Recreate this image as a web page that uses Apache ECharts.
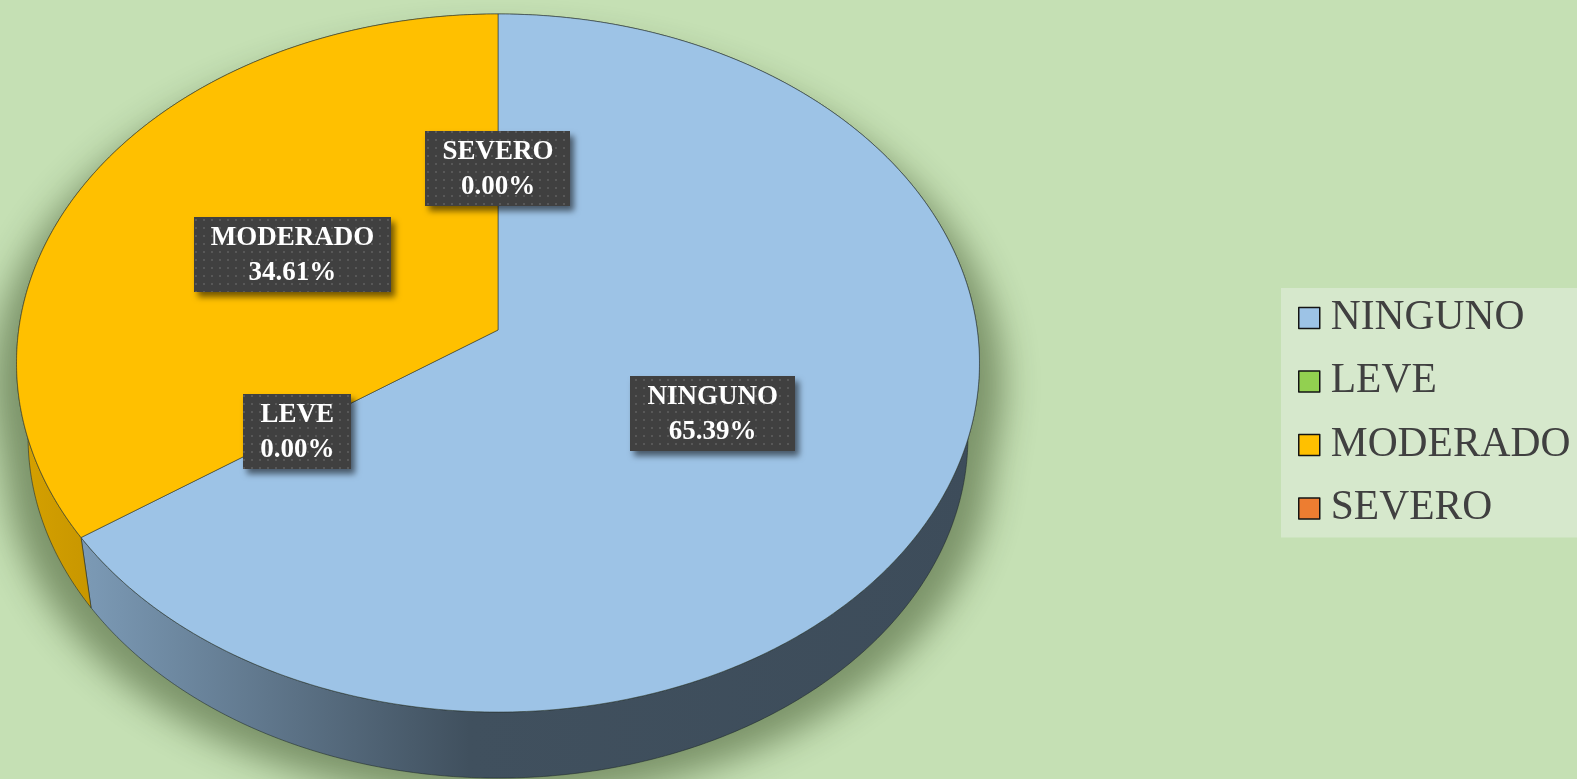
<!DOCTYPE html>
<html>
<head>
<meta charset="utf-8">
<script src="https://cdn.jsdelivr.net/npm/echarts@6/dist/echarts.min.js"></script>
<style>
  html, body { margin: 0; padding: 0; background: #c5e0b4; }
  #chart { width: 1577px; height: 779px; }
</style>
</head>
<body>
<div id="chart"></div>
<script>
// Survey result shares per category (percent)
const categories = ['NINGUNO', 'LEVE', 'MODERADO', 'SEVERO'];
const percentages = [65.39, 0.00, 34.61, 0.00];
const sliceColors = ['#9dc3e6', '#92d050', '#ffc000', '#ed7d31'];

// Geometry of the tilted disc (perspective view)
const CX = 498, CY = 330;          // projected centre of the top face
const RX = 479.3, RY = 345.9;      // radii before perspective scaling
const PERSP = 0.0946;              // near side appears larger
const DEPTH = 75.2;                // drop of the bottom face
const BOTTOM_SCALE = 0.976;        // bottom face is slightly farther away
const LABEL_R = 0.495;             // label distance as a fraction of radius

function project(theta, r, bottom) {
  const u = Math.sin(theta) * r;
  const v = -Math.cos(theta) * r;
  const s = 1 / (1 - PERSP * v);
  const m = bottom ? BOTTOM_SCALE : 1;
  return [CX + RX * u * s * m, CY + (bottom ? DEPTH : 0) + RY * v * s * m];
}

function arc(a, b, bottom) {
  const pts = [];
  const n = Math.max(2, Math.ceil((b - a) / (Math.PI / 360)));
  for (let i = 0; i <= n; i++) pts.push(project(a + (b - a) * i / n, 1, bottom));
  return pts;
}

function shade(hex, f) {
  const n = parseInt(hex.slice(1), 16);
  const r = Math.round(((n >> 16) & 255) * f);
  const g = Math.round(((n >> 8) & 255) * f);
  const b = Math.round((n & 255) * f);
  return 'rgb(' + r + ',' + g + ',' + b + ')';
}

function wallFill(hex) {
  const stops = [[0, 0.84], [0.08, 0.78], [0.29, 0.58], [0.47, 0.41], [1, 0.39]];
  return {
    type: 'linear', global: true, x: 17, y: 0, x2: 980, y2: 0,
    colorStops: stops.map(s => ({ offset: s[0], color: shade(hex, s[1]) }))
  };
}

// dotted fill for the label boxes
const dots = document.createElement('canvas');
dots.width = 8; dots.height = 8;
(function () {
  const c = dots.getContext('2d');
  c.fillStyle = '#404040'; c.fillRect(0, 0, 8, 8);
  c.fillStyle = '#585858'; c.fillRect(3, 3, 2, 2);
})();

const LABEL_FONT = 'bold 27px "Liberation Serif"';
const measureCtx = document.createElement('canvas').getContext('2d');
measureCtx.font = LABEL_FONT;

const total = percentages.reduce((s, v) => s + v, 0);
const startAngles = [];
let acc = 0;
percentages.forEach(v => { startAngles.push(acc / total * Math.PI * 2); acc += v; });

// soft cast shadow: a widened outline of the cake drawn off-canvas,
// with only its shadow shifted back under the cake
const SHADOW_SHIFT = 3000;
function shadowOutline() {
  const d = Math.PI / 180;
  const pts = arc(-100 * d, 100 * d, false).concat(arc(100 * d, 260 * d, true));
  return pts.map(p => [CX + (p[0] - CX) * 1.05 - SHADOW_SHIFT, p[1] + 22]);
}

function renderSlice(params) {
  const i = params.dataIndex;
  const a = startAngles[i];
  const b = a + percentages[i] / total * Math.PI * 2;
  const color = sliceColors[i];
  const children = [];

  if (i === 0) {
    children.push({
      type: 'polygon', z2: 0,
      shape: { points: shadowOutline() },
      style: {
        fill: '#000', shadowBlur: 34, shadowColor: 'rgba(35,55,15,0.45)',
        shadowOffsetX: SHADOW_SHIFT, shadowOffsetY: 0
      }
    });
  }

  if (b > a) {
    const top = arc(a, b, false);
    const bot = arc(a, b, true).reverse();
    children.push({
      type: 'polygon', z2: 5,
      shape: { points: top.concat(bot) },
      style: { fill: wallFill(color), stroke: 'rgba(30,40,40,0.55)', lineWidth: 1 }
    });
    children.push({
      type: 'polygon', z2: 10,
      shape: { points: [[CX, CY]].concat(top) },
      style: { fill: color, stroke: 'rgba(50,60,55,0.6)', lineWidth: 1 }
    });
  }

  // data label
  const mid = (a + b) / 2;
  const p = project(mid, LABEL_R, false);
  p[1] += 2;
  const line1 = categories[i];
  const line2 = percentages[i].toFixed(2) + '%';
  const tw = Math.max(measureCtx.measureText(line1).width, measureCtx.measureText(line2).width);
  const w = Math.round(tw + 34), h = 75;
  children.push({
    type: 'rect', z2: 30,
    shape: { x: Math.round(p[0] - w / 2), y: Math.round(p[1] - h / 2), width: w, height: h },
    style: {
      fill: { image: dots, repeat: 'repeat' },
      shadowBlur: 6, shadowOffsetX: 4, shadowOffsetY: 5, shadowColor: 'rgba(0,0,0,0.55)'
    }
  });
  children.push({
    type: 'text', z2: 31,
    style: {
      text: line1 + '\n' + line2, x: p[0], y: p[1] + 1,
      align: 'center', verticalAlign: 'middle',
      fill: '#ffffff', font: LABEL_FONT, lineHeight: 35
    }
  });

  return { type: 'group', children: children };
}

const chart = echarts.init(document.getElementById('chart'), null, { renderer: 'canvas' });
chart.setOption({
  backgroundColor: '#c5e0b4',
  animation: false,
  legend: {
    orient: 'vertical', left: 1281, top: 288,
    padding: [9, 22, 8, 17], itemGap: 21.5, itemWidth: 21, itemHeight: 21,
    backgroundColor: '#d6e8cc',
    icon: 'rect',
    itemStyle: { borderColor: '#141414', borderWidth: 1.5 },
    textStyle: {
      fontFamily: 'Liberation Serif', fontSize: 41.5, lineHeight: 40,
      color: '#404040', padding: [0, 0, 0, 6]
    },
    selectedMode: false,
    data: categories
  },
  series: [
    {
      type: 'custom', name: 'Distribución',
      coordinateSystem: 'none', silent: true,
      renderItem: renderSlice,
      data: percentages.map((v, i) => [v, i])
    },
    {
      // supplies the legend entries and their colours
      type: 'pie', name: 'leyenda', radius: [0, 0], center: [-200, -200],
      silent: true, label: { show: false }, labelLine: { show: false },
      data: categories.map((c, i) => ({ name: c, value: percentages[i], itemStyle: { color: sliceColors[i] } }))
    }
  ]
});
</script>
</body>
</html>
